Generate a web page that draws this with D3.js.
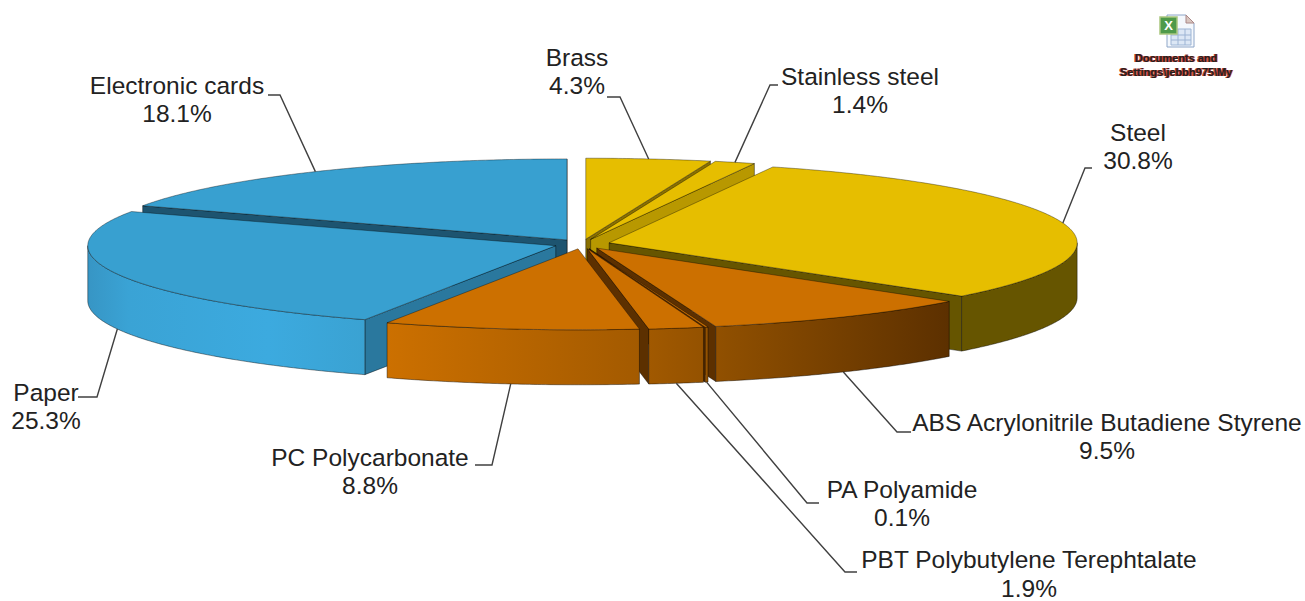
<!DOCTYPE html>
<html>
<head>
<meta charset="utf-8">
<script src="https://cdn.jsdelivr.net/npm/d3@7"></script>
<style>
  html, body { margin: 0; background: #fff; }
  svg { display: block; }
  text { font-family: "Liberation Sans", Arial, sans-serif; }
</style>
</head>
<body>
<div id="chart"></div>
<script>
/* DATA */
const materials = ["Brass", "Stainless steel", "Steel", "ABS Acrylonitrile Butadiene Styrene", "PA Polyamide", "PBT Polybutylene Terephtalate", "PC Polycarbonate", "Paper", "Electronic cards"];
const shares = [4.3, 1.4, 30.8, 9.5, 0.1, 1.9, 8.8, 25.3, 18.1];

/* COLORS */
const topColors = ["#e6be00", "#e6be00", "#e6be00", "#cc7000", "#cc7000", "#cc7000", "#cc7000", "#38a0d0", "#38a0d0"];
const cutColors = ["#8a7000", "#b89800", "#665500", "#5c3000", "#5c3000", "#5c3000", "#5c3000", "#2a789e", "#1d5470"];
const sideFills = ["url(#gYellow)", "url(#gYellow)", "url(#gYellow)", "url(#gOrange)", "url(#gOrange)", "url(#gOrange)", "url(#gOrange)", "url(#gBlue)", "url(#gBlue)"];

/* LAYOUT */
const width = 1305, height = 601;
const cx = 582, cy = 244;
const rx = 468, ry = 81, depth = 55, explode = 28;

// label box centre and elbow of the leader line, in the order of materials
const labelPos = [[577, 57], [860, 76], [1138, 132], [1107, 422], [902, 489], [1029, 559.5], [370, 457], [46, 392], [177, 85]];
const elbows = [[607, 620, 97], [778, 770, 85], [1092, 1085, 168], [911, 897, 432], [819, 807, 503], [857, 845, 572], [475, 492, 465], [78, 97, 397], [268, 280, 95]];

const svg = d3.select("#chart").append("svg").attr("width", width).attr("height", height);

const defs = svg.append("defs");
function gradient(id, x1, x2, stops) {
  const g = defs.append("linearGradient").attr("id", id)
    .attr("gradientUnits", "userSpaceOnUse")
    .attr("x1", x1).attr("x2", x2).attr("y1", 0).attr("y2", 0);
  stops.forEach(s => g.append("stop").attr("offset", s[0]).attr("stop-color", s[1]));
}
gradient("gBlue", 87, 366, [[0, "#3795c4"], [0.15, "#3aa3d5"], [0.65, "#3caadf"], [1, "#3aa2d2"]]);
gradient("gOrange", 387, 950, [[0, "#cc7000"], [0.45, "#a35a00"], [0.6, "#8f4f00"], [1, "#5c3000"]]);
gradient("gYellow", 950, 1078, [[0, "#665500"], [1, "#665500"]]);

const pie = d3.pie().sort(null).value(d => d)(shares);
const line = d3.line();
const stepAngle = Math.PI / 360;

// point on the ellipse at angle a (clockwise from 12 o'clock) around a slice tip
const onRim = (tip, a, dy = 0) => [tip[0] + rx * Math.sin(a), tip[1] - ry * Math.cos(a) + dy];

const slices = pie.map((p, i) => {
  const mid = (p.startAngle + p.endAngle) / 2;
  const tip = [cx + explode * Math.sin(mid), cy - explode * (ry / rx) * Math.cos(mid)];
  return { i, mid, tip, a0: p.startAngle, a1: p.endAngle };
});

function arcPoints(s, a0, a1, dy) {
  const pts = d3.range(a0, a1, stepAngle).map(a => onRim(s.tip, a, dy));
  pts.push(onRim(s.tip, a1, dy));
  return pts;
}

function cutWall(s, a) {
  const o = onRim(s.tip, a);
  return [s.tip, o, [o[0], o[1] + depth], [s.tip[0], s.tip[1] + depth]];
}

const edge = "rgba(0,0,0,0.6)";

// back slices first, so the front ones paint over them
const order = slices.slice().sort((a, b) => Math.cos(b.mid) - Math.cos(a.mid));
const groups = svg.append("g").selectAll("g").data(order).join("g");

groups.each(function (s) {
  const g = d3.select(this);
  // cut faces that look towards the viewer
  if (Math.sin(s.a1) > 0) {
    g.append("path").attr("d", line(cutWall(s, s.a1)) + "Z")
      .attr("fill", cutColors[s.i]).attr("stroke", edge).attr("stroke-width", 0.7);
  }
  if (Math.sin(s.a0) < 0) {
    g.append("path").attr("d", line(cutWall(s, s.a0)) + "Z")
      .attr("fill", cutColors[s.i]).attr("stroke", edge).attr("stroke-width", 0.7);
  }
  // outer curved wall, front half of the ellipse only
  const w0 = Math.max(s.a0, Math.PI / 2), w1 = Math.min(s.a1, Math.PI * 1.5);
  if (w1 > w0) {
    const pts = arcPoints(s, w0, w1, 0).concat(arcPoints(s, w0, w1, depth).reverse());
    g.append("path").attr("d", line(pts) + "Z")
      .attr("fill", sideFills[s.i]).attr("stroke", edge).attr("stroke-width", 0.7);
  }
  // top face
  const top = [s.tip].concat(arcPoints(s, s.a0, s.a1, 0));
  g.append("path").attr("d", line(top) + "Z")
    .attr("fill", topColors[s.i]).attr("stroke", edge).attr("stroke-width", 0.6);
});

/* LEADER LINES + LABELS */
const leaders = svg.append("g").attr("fill", "none").attr("stroke", "#404040").attr("stroke-width", 1.4);
slices.forEach(s => {
  // slices at the front take the line from the bottom of their wall
  const lowSide = Math.cos(s.mid) < 0 && s.i >= 3;
  const end = onRim(s.tip, s.mid, lowSide ? depth : 0);
  const e = elbows[s.i];
  leaders.append("path").attr("d", line([[e[0], e[2]], [e[1], e[2]], end]));
});

const labels = svg.append("g").attr("fill", "#222").attr("font-size", 24.5).attr("text-anchor", "middle");
materials.forEach((m, i) => {
  const pos = labelPos[i];
  labels.append("text").attr("x", pos[0]).attr("y", pos[1]).attr("dy", "0.35em").text(m);
  labels.append("text").attr("x", pos[0]).attr("y", pos[1] + 28.5).attr("dy", "0.35em")
    .text(d3.format(".1f")(shares[i]) + "%");
});

/* EMBEDDED FILE ICON (top right) */
const icon = svg.append("g").attr("transform", "translate(1160,15)");
icon.append("path").attr("d", "M7,0H26L34,8V32H7Z").attr("fill", "#f4f8fd").attr("stroke", "#8ea6c8");
icon.append("path").attr("d", "M26,0L34,8H26Z").attr("fill", "#d9c6c0").attr("stroke", "#a88");
icon.append("path").attr("d", "M11,14H31V30H11ZM11,20H31M11,25H31M18,14V30M25,14V30").attr("fill", "#dce7f5").attr("stroke", "#9db4d4");
icon.append("rect").attr("x", 0).attr("y", 2).attr("width", 17).attr("height", 17).attr("fill", "#4f9a4a").attr("stroke", "#a9c67e").attr("stroke-width", 1.5);
icon.append("text").attr("x", 8.5).attr("y", 15).attr("text-anchor", "middle").attr("font-size", 13).attr("font-weight", "bold").attr("fill", "#fff").text("X");

const caption = ["Documents and", "Settings\\jebbh975\\My"];
caption.forEach((c, i) => {
  svg.append("text").attr("x", 1176).attr("y", 62 + i * 14)
    .attr("text-anchor", "middle").attr("font-size", 11).attr("font-weight", "bold")
    .attr("fill", "#222").style("text-shadow", "1px 0 0 #c0392b, -1px 0 0 #c0392b").text(c);
});
</script>
</body>
</html>
